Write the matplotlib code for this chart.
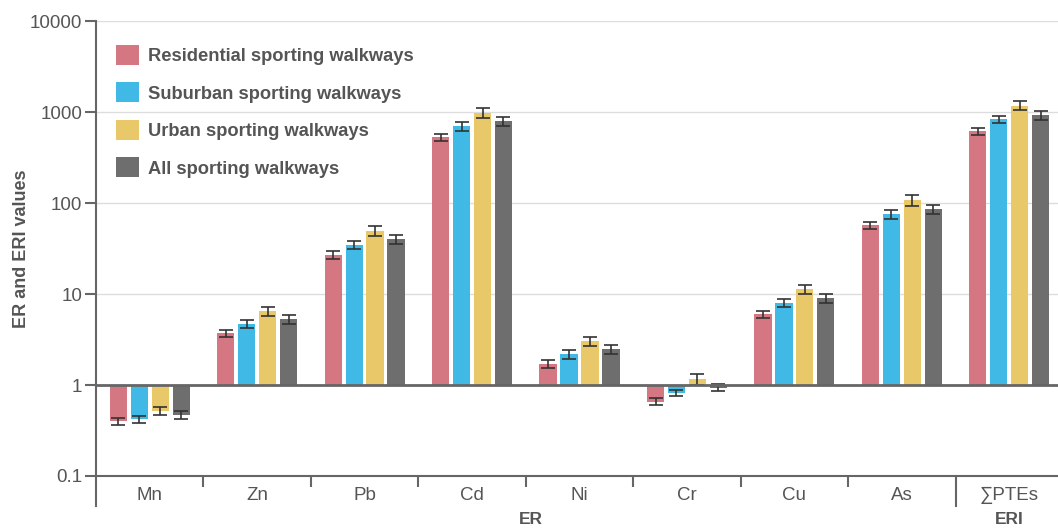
import numpy as np
import matplotlib.pyplot as plt
import matplotlib.transforms as mtransforms

plt.rcParams['font.family'] = ['Liberation Sans', 'DejaVu Sans']

elements = ['Mn', 'Zn', 'Pb', 'Cd', 'Ni', 'Cr', 'Cu', 'As', '∑PTEs']
groups = ['Residential sporting walkways', 'Suburban sporting walkways',
          'Urban sporting walkways', 'All sporting walkways']
colors = ['#d47783', '#41b9e6', '#e9c86a', '#6e6e6e']

# mean ER / ERI values
residential = [0.40, 3.7, 27, 530, 1.70, 0.66, 6.0, 57, 620]
suburban = [0.42, 4.7, 35, 700, 2.2, 0.82, 8.0, 76, 840]
urban = [0.52, 6.5, 50, 990, 3.05, 1.16, 11.4, 108, 1190]
all_walkways = [0.47, 5.3, 40, 800, 2.5, 0.94, 9.0, 86, 930]

# error bar half lengths
err_res = [0.035, 0.35, 2.5, 45, 0.17, 0.06, 0.55, 5, 55]
err_sub = [0.04, 0.5, 3.5, 75, 0.25, 0.07, 0.8, 9, 80]
err_urb = [0.05, 0.8, 6, 120, 0.35, 0.15, 1.3, 14, 130]
err_all = [0.05, 0.6, 4.5, 90, 0.28, 0.08, 1.0, 10, 100]

series = [residential, suburban, urban, all_walkways]
errors = [err_res, err_sub, err_urb, err_all]

fig = plt.figure(figsize=(10.58, 5.28), dpi=100)
ax = fig.add_axes([96 / 1058, 52 / 528, 967 / 1058, 454.5 / 528])

x = np.arange(len(elements))
step = 0.195
width = 0.16
for i, (vals, errs) in enumerate(zip(series, errors)):
    vals = np.array(vals)
    pos = x + (i - 1.5) * step
    ax.bar(pos, vals - 1, bottom=1, width=width, color=colors[i], label=groups[i], zorder=2)
    ax.errorbar(pos, vals, yerr=errs, fmt='none', ecolor='#333333', elinewidth=1.2,
                capsize=5, capthick=1.2, zorder=3)

ax.set_yscale('log')
ax.set_ylim(0.1, 10000)
ax.set_xlim(-0.5, 8.5)
yt = [0.1, 1, 10, 100, 1000, 10000]
ax.set_yticks(yt)
ax.set_yticklabels(['0.1', '1', '10', '100', '1000', '10000'])
ax.yaxis.set_minor_locator(plt.NullLocator())
for v in yt[2:]:
    ax.axhline(v, color='#dddddd', lw=1, zorder=0)
ax.axhline(1, color='#666666', lw=2, zorder=4)

ax.set_xticks(x)
ax.set_xticklabels(elements)
ax.set_xticks(np.arange(0.5, 7.5, 1), minor=True)
ax.tick_params(axis='x', which='major', length=0, pad=8, labelsize=13.5, labelcolor='#555555')
ax.tick_params(axis='x', which='minor', length=8, width=1.5, color='#666666')
ax.tick_params(axis='y', length=8, width=1.5, color='#666666', labelsize=13.5,
               labelcolor='#555555', pad=2)

for s in ['top', 'right']:
    ax.spines[s].set_visible(False)
for s in ['left', 'bottom']:
    ax.spines[s].set_color('#666666')
    ax.spines[s].set_linewidth(1.5)

# group separators and labels below the axis
trans = mtransforms.blended_transform_factory(ax.transData, ax.transAxes)
for xs in [-0.5, 7.5]:
    ax.plot([xs, xs], [0, -30 / 454.5], transform=trans, color='#666666', lw=1.5, clip_on=False)
ax.text(3.55, -44 / 454.5, 'ER', transform=trans, ha='center', va='center',
        fontsize=12.5, fontweight='bold', color='#555555')
ax.text(8.0, -44 / 454.5, 'ERI', transform=trans, ha='center', va='center',
        fontsize=12.5, fontweight='bold', color='#555555')

ax.set_ylabel('ER and ERI values', fontsize=13, fontweight='bold', color='#555555', labelpad=0)

leg = ax.legend(loc='upper left', bbox_to_anchor=(0.004, 0.985), frameon=False,
                prop={'size': 13.2, 'weight': 'bold'}, handlelength=1.25, handleheight=1.3,
                handletextpad=0.5, labelspacing=0.95)
for t in leg.get_texts():
    t.set_color('#555555')

fig.savefig('out.png', dpi=100)
